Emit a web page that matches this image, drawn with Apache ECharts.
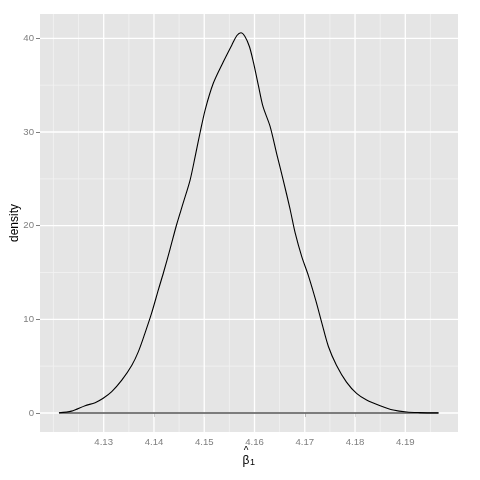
<!DOCTYPE html>
<html>
<head>
<meta charset="utf-8">
<script src="https://cdn.jsdelivr.net/npm/echarts@6/dist/echarts.min.js"></script>
<style>html,body{margin:0;padding:0;background:#fff}#c{width:480px;height:480px}</style>
</head>
<body>
<div id="c"></div>
<script>
// Density estimate of beta-hat_1
const xVals = [4.1211,4.1236,4.1263,4.1283,4.1299,4.1316,4.1336,4.1356,4.1369,4.1382,4.1395,4.1409,4.1419,4.1432,4.1445,4.1458,4.1472,4.1482,4.1492,4.1502,4.1518,4.1538,4.1555,4.1565,4.1573,4.1581,4.1590,4.1598,4.1608,4.1617,4.1631,4.1644,4.1657,4.1671,4.1681,4.1694,4.1707,4.1722,4.1734,4.1747,4.1763,4.1783,4.1803,4.1823,4.1850,4.1876,4.1903,4.1929,4.1966];
const densVals = [0.03,0.2,0.78,1.1,1.57,2.28,3.5,5.1,6.55,8.5,10.6,13.2,15.0,17.5,20.1,22.4,24.9,27.4,30.0,32.4,35.2,37.5,39.3,40.3,40.6,40.2,39.1,37.4,34.9,32.7,30.6,27.7,24.9,21.7,19.2,16.7,14.7,12.0,9.6,7.1,5.1,3.3,2.1,1.39,0.78,0.32,0.1,0.04,0.01];
const xTicks = [4.13,4.14,4.15,4.16,4.17,4.18,4.19];
const xMinor = [4.12,4.125,4.135,4.145,4.155,4.165,4.175,4.185,4.195];
const yTicks = [0,10,20,30,40];
const yMinor = [5,15,25,35];
const xRange = [4.11733, 4.20048];
const yRange = [-2.03, 42.6];

const curve = xVals.map((x,i)=>[x,densVals[i]]);
const base = [[xVals[0],0],[xVals[xVals.length-1],0]];

const major = {color:'#ffffff', width:1.3};
const minor = {color:'#f2f2f2', width:0.8};
function vLine(v, st, z){ return {type:'line', data:[[v,yRange[0]],[v,yRange[1]]], z:z, symbol:'none', silent:true, lineStyle:st}; }
function hLine(v, st, z){ return {type:'line', data:[[xRange[0],v],[xRange[1],v]], z:z, symbol:'none', silent:true, lineStyle:st}; }
const gridSeries = []
  .concat(xMinor.map(v=>vLine(v,minor,0)))
  .concat(yMinor.map(v=>hLine(v,minor,0)))
  .concat(xTicks.map(v=>vLine(v,major,1)))
  .concat(yTicks.map(v=>hLine(v,major,1)));

const chart = echarts.init(document.getElementById('c'), null, {renderer:'canvas'});
chart.setOption({
  animation:false,
  grid:{left:40, top:14, right:22, bottom:48, show:true, backgroundColor:'#e5e5e5', borderWidth:0, containLabel:false, outerBoundsMode:'none'},
  xAxis:{
    type:'value', min:xRange[0], max:xRange[1],
    splitLine:{show:false}, axisLine:{show:false},
    axisTick:{show:true, customValues:xTicks, length:4, lineStyle:{color:'#7f7f7f', width:1}},
    axisLabel:{show:true, customValues:xTicks, color:'#7f7f7f', fontSize:9.6, fontFamily:'Liberation Sans', margin:5,
      formatter:v=>v.toFixed(2)},
    name:'{h|^}{hs|}\n{b|β}{s|1}', nameLocation:'middle', nameGap:17, nameMoveOverlap:false,
    nameTextStyle:{fontFamily:'Liberation Sans', color:'#000', align:'center', verticalAlign:'top', rich:{
      h:{fontSize:10, fontFamily:'Liberation Sans', color:'#000', width:7, align:'center', height:5, lineHeight:5},
      hs:{width:6, height:5, lineHeight:5},
      b:{fontSize:12, fontFamily:'Liberation Sans', color:'#000', width:7, align:'center', lineHeight:13},
      s:{fontSize:9, fontFamily:'Liberation Sans', color:'#000', width:6, verticalAlign:'bottom', lineHeight:13, padding:[5,0,0,0]}
    }}
  },
  yAxis:{
    type:'value', min:yRange[0], max:yRange[1],
    splitLine:{show:false}, axisLine:{show:false},
    axisTick:{show:true, customValues:yTicks, length:4, lineStyle:{color:'#7f7f7f', width:1}},
    axisLabel:{show:true, customValues:yTicks, color:'#7f7f7f', fontSize:9.6, fontFamily:'Liberation Sans', margin:6},
    name:'density', nameLocation:'middle', nameGap:19, nameMoveOverlap:false,
    nameTextStyle:{fontFamily:'Liberation Sans', fontSize:12, color:'#000'}
  },
  series: gridSeries.concat([
    {type:'line', data:base, z:5, symbol:'none', lineStyle:{color:'#000', width:1.1}, silent:true},
    {type:'line', data:curve, z:6, symbol:'none', smooth:0.3, lineStyle:{color:'#000', width:1.1}, silent:true}
  ])
});
</script>
</body>
</html>
